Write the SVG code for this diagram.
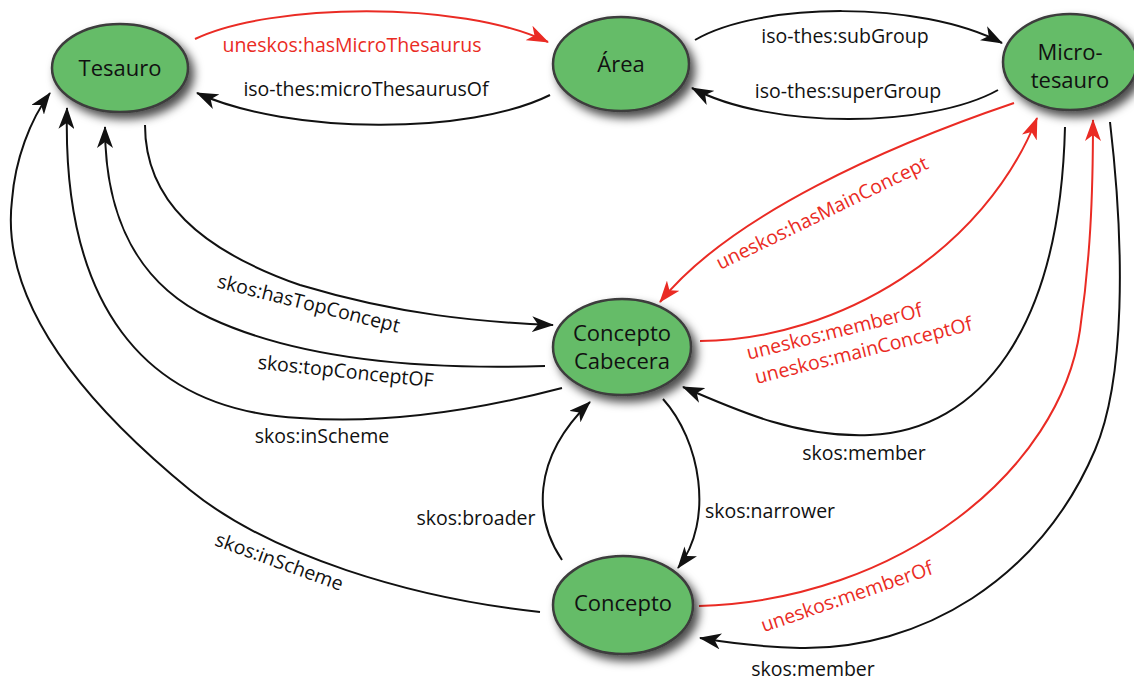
<svg xmlns="http://www.w3.org/2000/svg" width="1134" height="680" viewBox="0 0 1134 680">
<defs>
<style>
.node ellipse{fill:#65bc67;stroke:#3c3c3c;stroke-width:2.5;filter:url(#sh)}
.node text{font-family:"Open Sans","DejaVu Sans",sans-serif;font-size:22px;fill:#111;text-anchor:middle}
.e{fill:none;stroke:#111;stroke-width:2}
.r{fill:none;stroke:#ea2b24;stroke-width:2}
.lb{font-family:"Open Sans","DejaVu Sans",sans-serif;font-size:19.5px;fill:#111;text-anchor:middle}
.lr{font-family:"Open Sans","DejaVu Sans",sans-serif;font-size:19.5px;fill:#ea2b24;text-anchor:middle}
</style>
<filter id="sh" x="-30%" y="-30%" width="170%" height="180%">
<feDropShadow dx="5" dy="6" stdDeviation="5" flood-color="#000" flood-opacity="0.7"/>
</filter>
<marker id="ab" viewBox="0 0 22 16" markerWidth="22" markerHeight="16" refX="21" refY="8" orient="auto" markerUnits="userSpaceOnUse">
<path d="M0,0 L22,8 L0,16 L6,8 Z" fill="#111"/>
</marker>
<marker id="ar" viewBox="0 0 22 16" markerWidth="22" markerHeight="16" refX="21" refY="8" orient="auto" markerUnits="userSpaceOnUse">
<path d="M0,0 L22,8 L0,16 L6,8 Z" fill="#ea2b24"/>
</marker>
</defs>
<rect width="1134" height="680" fill="#fff"/>
<g id="connectors">
<path class="r" d="M195,39 C270,3 460,0 548,42" marker-end="url(#ar)"/>
<path class="e" d="M550,95 C470,135 290,135 197,93" marker-end="url(#ab)"/>
<path class="e" d="M695,40 C760,2 920,0 1002,43" marker-end="url(#ab)"/>
<path class="e" d="M998,90 C930,128 770,130 692,88" marker-end="url(#ab)"/>
<path class="e" d="M145,125 C145,200 200,250 300,285 C400,315 480,322 553,325" marker-end="url(#ab)"/>
<path class="e" d="M545,366 C420,370 300,360 210,318 C140,285 105,220 105,127" marker-end="url(#ab)"/>
<path class="e" d="M562,388 C470,412 380,424 300,418 C140,410 62,300 67,108" marker-end="url(#ab)"/>
<path class="e" d="M540,612 C410,598 270,555 190,490 C80,400 0,300 12,200 C15,160 30,120 50,93" marker-end="url(#ab)"/>
<path class="r" d="M1014,103 C890,145 730,215 660,302" marker-end="url(#ar)"/>
<path class="r" d="M700,341 C840,340 985,250 1037,118" marker-end="url(#ar)"/>
<path class="e" d="M1065,127 C1060,330 980,430 870,435 C800,438 740,412 683,387" marker-end="url(#ab)"/>
<path class="r" d="M699,606 C900,600 1060,470 1080,330 C1090,260 1093,200 1093,120" marker-end="url(#ar)"/>
<path class="e" d="M1110,122 C1125,250 1125,380 1095,450 C1040,580 920,650 800,648 C760,647 730,643 700,638" marker-end="url(#ab)"/>
<path class="e" d="M562,560 C535,520 530,460 590,402" marker-end="url(#ab)"/>
<path class="e" d="M663,399 C700,440 715,520 678,568" marker-end="url(#ab)"/>
</g>
<g id="labels">
<text class="lr" x="352" y="52">uneskos:hasMicroThesaurus</text>
<text class="lb" x="366" y="96">iso-thes:microThesaurusOf</text>
<text class="lb" x="845" y="43">iso-thes:subGroup</text>
<text class="lb" x="848" y="98">iso-thes:superGroup</text>
<text class="lb" transform="translate(307,310) rotate(14)">skos:hasTopConcept</text>
<text class="lb" transform="translate(345,378) rotate(6)">skos:topConceptOF</text>
<text class="lb" x="322" y="443">skos:inScheme</text>
<text class="lb" transform="translate(277,568) rotate(20)">skos:inScheme</text>
<text class="lr" transform="translate(825,219) rotate(-26)">uneskos:hasMainConcept</text>
<text class="lr" transform="translate(836,338) rotate(-14)">uneskos:memberOf</text>
<text class="lr" transform="translate(865,357) rotate(-14)">uneskos:mainConceptOf</text>
<text class="lb" x="864" y="460">skos:member</text>
<text class="lb" x="476" y="525">skos:broader</text>
<text class="lb" x="770" y="518">skos:narrower</text>
<text class="lr" transform="translate(849,603) rotate(-19)">uneskos:memberOf</text>
<text class="lb" x="813" y="676">skos:member</text>
</g>
<g id="tesauro" class="node"><ellipse cx="120" cy="68" rx="68" ry="44"/><text x="120" y="76">Tesauro</text></g>
<g id="area" class="node"><ellipse cx="621" cy="64" rx="68" ry="47"/><text x="621" y="72">Área</text></g>
<g id="microtesauro" class="node"><ellipse cx="1070" cy="62" rx="67" ry="48"/><text x="1070" y="60">Micro-</text><text x="1070" y="88">tesauro</text></g>
<g id="concepto-cabecera" class="node"><ellipse cx="622" cy="347" rx="69" ry="48"/><text x="622" y="341">Concepto</text><text x="622" y="369">Cabecera</text></g>
<g id="concepto" class="node"><ellipse cx="623" cy="605" rx="70" ry="49"/><text x="623" y="611">Concepto</text></g>
</svg>
